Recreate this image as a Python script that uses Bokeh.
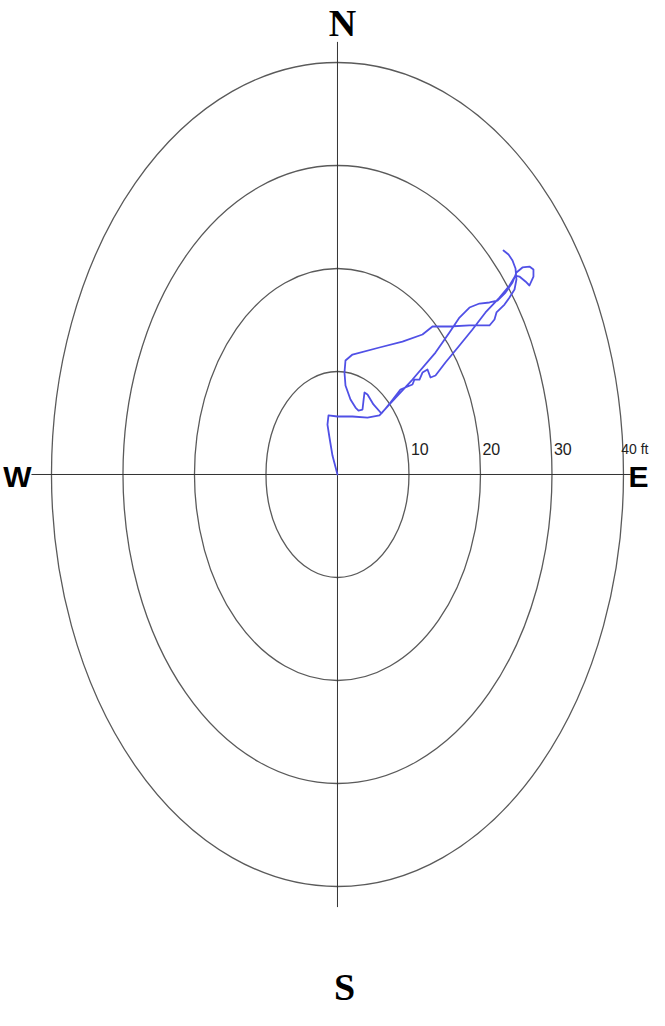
from bokeh.plotting import figure
from bokeh.models import Range1d
from bokeh.core.properties import value
from bokeh.embed import file_html
from bokeh.resources import INLINE

# ---- data (feet; x = east, y = north) ----
ring_radii = [10, 20, 30, 40]
ring_labels = ["10", "20", "30", "40 ft"]

track_east = [0.0, -0.70, -1.12, -1.40, -1.26, 0.0, 2.10, 4.20, 5.87,
              7.27, 10.49, 13.71, 15.66, 17.06, 18.46, 19.86, 21.26, 22.38, 23.50, 24.48, 25.03,
              25.87, 26.85, 27.41, 27.41, 26.85, 26.29, 25.45, 24.90,
              24.06, 22.66, 20.70, 18.88, 17.06, 15.10, 13.71, 13.01, 12.59, 11.89, 11.47, 10.77,
              10.49, 8.81, 7.41, 6.15,
              5.03, 4.20, 3.78, 3.64, 3.50, 2.94, 2.52, 1.82, 1.12, 0.98, 1.12, 2.10, 5.87, 9.09,
              11.89, 13.29, 15.66, 18.46, 21.26, 21.96, 22.24, 23.36, 24.06, 24.76, 25.03, 24.90,
              24.48, 23.92, 23.22]
track_north = [0.0, 1.84, 3.59, 4.85, 5.73, 5.63, 5.63, 5.53, 5.73,
               6.80, 9.22, 11.84, 13.79, 15.24, 16.21, 16.60, 16.70, 16.89, 17.67, 18.64, 19.61,
               20.10, 20.19, 19.90, 19.22, 18.35, 18.74, 19.22, 19.32,
               18.35, 17.18, 15.73, 14.08, 12.52, 10.87, 9.61, 9.42, 10.19, 9.90, 9.22, 9.22,
               8.74, 8.25, 6.99, 5.92,
               6.80, 7.77, 7.96, 7.18, 6.31, 6.21, 6.50, 7.28, 8.64, 9.90, 11.07, 11.65, 12.33, 12.91,
               13.59, 14.37, 14.37, 14.47, 14.47, 15.05, 15.73, 16.50, 17.18, 17.96, 18.93, 20.00,
               20.78, 21.36, 21.75]

compass_labels = ["N", "S", "W", "E"]

# ---- figure ----
p = figure(width=649, height=1010,
           x_range=Range1d(-47.13, 43.64), y_range=Range1d(-52.04, 46.02),
           x_axis_type=None, y_axis_type=None,
           output_backend="svg", toolbar_location=None,
           min_border=0, min_border_left=0, min_border_right=0,
           min_border_top=0, min_border_bottom=0)
p.grid.visible = False
p.outline_line_color = None
p.background_fill_color = "white"
p.border_fill_color = "white"

# rings
p.ellipse(x=[0] * len(ring_radii), y=[0] * len(ring_radii),
          width=[2 * r for r in ring_radii], height=[2 * r for r in ring_radii],
          fill_color=None, line_color="#5a5a5a", line_width=1.3)

# cross lines
p.line(x=[0, 0], y=[-42.0, 42.0], line_color="#333333", line_width=1)
p.line(x=[-42.8, 41.0], y=[0, 0], line_color="#333333", line_width=1)

# ring labels
p.text(x=ring_radii[:3], y=[2.45] * 3, text=ring_labels[:3],
       x_offset=2, text_align="left", text_baseline="alphabetic",
       text_font=value("Liberation Sans"), text_font_size="16px",
       text_color="#222222")
p.text(x=[43.5], y=[2.45], text=ring_labels[3:],
       text_align="right", text_baseline="alphabetic",
       text_font=value("Liberation Sans"), text_font_size="14px",
       text_color="#222222")

# track
p.line(x=track_east, y=track_north, line_color="#5050e6", line_width=1.8,
       line_join="round", line_cap="round")

# compass labels
p.text(x=[0.7, 0.98], y=[43.84, -49.75], text=compass_labels[:2],
       text_align="center", text_baseline="alphabetic",
       text_font=value("Liberation Serif"), text_font_style="bold",
       text_font_size="38px", text_color="black")
p.text(x=[-44.76], y=[-0.19], text=[compass_labels[2]],
       text_align="center", text_baseline="alphabetic",
       text_font=value("Liberation Sans"), text_font_style="bold",
       text_font_size="30px", text_color="black")
p.text(x=[43.5], y=[-0.19], text=[compass_labels[3]],
       text_align="right", text_baseline="alphabetic",
       text_font=value("Liberation Sans"), text_font_style="bold",
       text_font_size="30px", text_color="black")

open("out.html", "w").write(file_html(p, INLINE))
